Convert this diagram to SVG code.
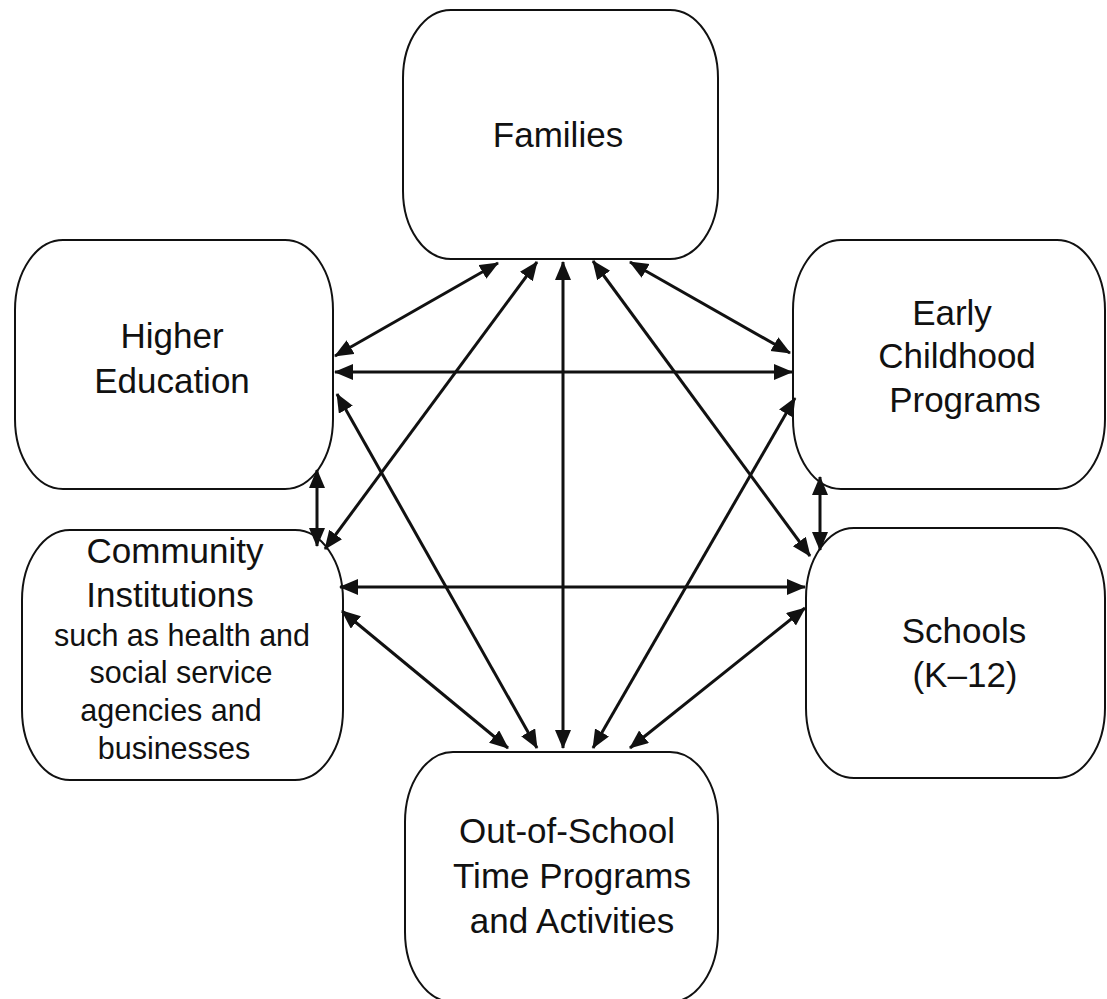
<svg xmlns="http://www.w3.org/2000/svg" width="1107" height="999" viewBox="0 0 1107 999">
<style>
.box{fill:#fff;stroke:#111;stroke-width:2}
.t{font-family:"Liberation Sans",Arial,sans-serif;font-size:35px;fill:#111;text-anchor:middle}
.s{font-family:"Liberation Sans",Arial,sans-serif;font-size:30.5px;fill:#111;text-anchor:middle}
.c line{stroke:#111;stroke-width:3;marker-start:url(#ah);marker-end:url(#ah)}
</style>
<defs>
<marker id="ah" markerUnits="userSpaceOnUse" markerWidth="20" markerHeight="18" refX="18" refY="8" orient="auto-start-reverse">
<path d="M0,0 L19,8 L0,16 z" fill="#111"/>
</marker>
</defs>
<rect width="1107" height="999" fill="#fff"/>
<g id="families"><rect class="box" x="403" y="10" width="315" height="249" rx="48" ry="68"/><text class="t" x="558" y="147">Families</text></g>
<g id="higher-education"><rect class="box" x="15" y="240" width="318" height="249" rx="48" ry="70"/><text class="t" x="172" y="348">Higher</text><text class="t" x="172" y="393">Education</text></g>
<g id="early-childhood"><rect class="box" x="793" y="240" width="312" height="249" rx="48" ry="70"/><text class="t" x="952" y="325">Early</text><text class="t" x="957" y="368">Childhood</text><text class="t" x="965" y="412">Programs</text></g>
<g id="community"><rect class="box" x="22" y="530" width="321" height="250" rx="48" ry="70"/><text class="t" x="175" y="563">Community</text><text class="t" x="170" y="607">Institutions</text><text class="s" x="182" y="646">such as health and</text><text class="s" x="181" y="683">social service</text><text class="s" x="171" y="721">agencies and</text><text class="s" x="174" y="759">businesses</text></g>
<g id="schools"><rect class="box" x="806" y="528" width="299" height="250" rx="48" ry="70"/><text class="t" x="964" y="643">Schools</text><text class="t" x="965" y="687">(K–12)</text></g>
<g id="out-of-school"><rect class="box" x="405" y="752" width="313" height="250" rx="48" ry="70"/><text class="t" x="567" y="843">Out-of-School</text><text class="t" x="572" y="888">Time Programs</text><text class="t" x="572" y="933">and Activities</text></g>
<g id="connectors" class="c">
<line x1="335" y1="356" x2="498" y2="263"/>
<line x1="335" y1="372" x2="792" y2="372"/>
<line x1="325" y1="549" x2="537" y2="262"/>
<line x1="563" y1="262" x2="563" y2="748"/>
<line x1="593" y1="261" x2="810" y2="556"/>
<line x1="630" y1="262" x2="790" y2="353"/>
<line x1="317" y1="470" x2="317" y2="546"/>
<line x1="337" y1="394" x2="537" y2="748"/>
<line x1="820" y1="477" x2="820" y2="550"/>
<line x1="593" y1="748" x2="795" y2="398"/>
<line x1="340" y1="587" x2="805" y2="587"/>
<line x1="342" y1="611" x2="508" y2="748"/>
<line x1="805" y1="608" x2="630" y2="748"/>
</g>
</svg>
